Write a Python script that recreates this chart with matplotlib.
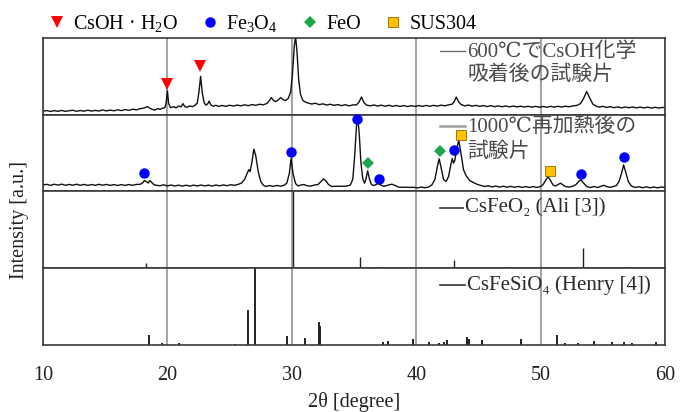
import matplotlib
matplotlib.use('Agg')
import matplotlib.pyplot as plt
from matplotlib.lines import Line2D

plt.rcParams['font.family'] = ['Liberation Serif', 'DejaVu Serif', 'Noto Sans CJK JP']
plt.rcParams['mathtext.fontset'] = 'custom'
plt.rcParams['mathtext.rm'] = 'Liberation Serif'
plt.rcParams['mathtext.it'] = 'Liberation Serif:italic'

# spectrum after CsOH chemisorption at 600C (heights read in pixels)
x_600 = [10.0, 10.3, 10.6, 10.9, 11.2, 11.5, 11.8, 12.1, 12.4, 12.7, 13.0, 13.3, 13.6, 13.9, 14.2,
         14.5, 14.8, 15.1, 15.4, 15.7, 16.0, 16.3, 16.6, 16.9, 17.2, 17.5, 17.8, 18.1, 18.4, 18.6,
         18.8, 19.0, 19.2, 19.4, 19.6, 19.8, 19.9, 20.0, 20.1, 20.25, 20.5, 20.7, 20.9, 21.1, 21.25,
         21.4, 21.6, 21.8, 22.0, 22.2, 22.4, 22.55, 22.67, 22.8, 22.95, 23.1, 23.25, 23.35, 23.5, 23.7,
         23.9, 24.1, 24.4, 24.7, 25.0, 25.3, 25.6, 25.9, 26.2, 26.5, 26.8, 27.1, 27.4, 27.7, 28.0,
         28.2, 28.35, 28.5, 28.7, 28.9, 29.1, 29.3, 29.5, 29.7, 29.9, 30.05, 30.2, 30.3, 30.42, 30.55,
         30.7, 30.9, 31.1, 31.3, 31.6, 31.9, 32.2, 32.5, 32.8, 33.1, 33.4, 33.7, 34.0, 34.3, 34.6,
         34.9, 35.2, 35.4, 35.6, 35.8, 36.0, 36.3, 36.6, 36.9, 37.2, 37.5, 37.8, 38.1, 38.4, 38.7,
         39.0, 39.3, 39.6, 39.9, 40.2, 40.5, 40.8, 41.1, 41.4, 41.7, 42.0, 42.3, 42.6, 42.9, 43.05,
         43.22, 43.4, 43.6, 43.9, 44.2, 44.5, 44.8, 45.1, 45.4, 45.7, 46.0, 46.3, 46.6, 46.9, 47.2,
         47.5, 47.8, 48.1, 48.4, 48.7, 49.0, 49.3, 49.6, 49.9, 50.2, 50.5, 50.8, 51.1, 51.4, 51.7,
         52.0, 52.3, 52.6, 52.9, 53.2, 53.45, 53.7, 53.95, 54.2, 54.45, 54.7, 55.0, 55.3, 55.6, 55.9,
         56.2, 56.5, 56.8, 57.1, 57.4, 57.7, 58.0, 58.3, 58.6, 58.9, 59.2, 59.5, 59.8, 60.0]
y_600 = [3.5, 4.2, 3.2, 4.1, 3.4, 4.3, 3.3, 4.0, 4.4, 3.4, 4.2, 3.5, 4.5, 3.6, 4.3,
         3.7, 4.7, 3.8, 4.6, 3.9, 4.9, 4.1, 5.1, 4.4, 5.5, 4.8, 6.0, 6.6, 8.0, 6.4,
         5.2, 4.6, 6.1, 5.3, 6.4, 7.0, 12.0, 23.5, 11.0, 7.0, 8.0, 6.8, 8.6, 7.8, 11.0,
         8.0, 7.4, 8.8, 8.0, 9.2, 11.5, 24.0, 38.0, 22.0, 12.0, 9.5, 11.0, 13.5, 9.6, 8.4,
         9.4, 8.2, 9.2, 8.3, 9.4, 8.6, 9.6, 8.8, 9.8, 9.0, 10.1, 9.3, 10.4, 9.8, 11.2,
         14.0, 17.0, 14.5, 13.0, 14.5, 17.0, 15.0, 14.0, 16.0, 22.0, 40.0, 68.0, 78.0, 62.0, 35.0,
         20.0, 14.0, 12.5, 11.6, 10.6, 11.4, 10.0, 10.8, 9.6, 10.4, 9.3, 10.1, 9.0, 9.9, 8.8,
         9.7, 9.8, 12.5, 17.5, 12.0, 9.6, 8.8, 9.7, 8.6, 9.5, 8.4, 9.4, 8.3, 9.2, 8.2,
         9.1, 8.1, 9.0, 8.2, 9.1, 8.3, 9.2, 8.4, 9.3, 8.5, 9.5, 8.8, 9.8, 10.5, 13.0,
         17.5, 13.0, 10.2, 8.8, 9.6, 8.5, 9.3, 8.3, 9.1, 8.1, 9.0, 8.0, 8.8, 7.9, 8.7,
         7.8, 8.6, 7.7, 8.5, 7.6, 8.4, 7.5, 8.3, 7.4, 8.2, 7.4, 8.3, 7.5, 8.4, 7.6,
         8.5, 7.8, 8.8, 9.2, 11.0, 16.0, 23.0, 16.5, 10.5, 8.6, 7.6, 8.3, 7.2, 8.0, 7.0,
         7.8, 6.8, 7.7, 6.9, 7.7, 6.8, 7.6, 6.7, 7.5, 6.6, 7.4, 6.6, 7.3, 6.9]

# spectrum after reheating at 1000C
x_1000 = [10.0, 10.3, 10.6, 10.9, 11.2, 11.5, 11.8, 12.1, 12.4, 12.7, 13.0, 13.3, 13.6, 13.9, 14.2,
          14.5, 14.8, 15.1, 15.4, 15.7, 16.0, 16.3, 16.6, 16.9, 17.2, 17.5, 17.8, 18.0, 18.15, 18.3,
          18.45, 18.6, 18.75, 18.9, 19.1, 19.4, 19.7, 20.0, 20.3, 20.6, 20.9, 21.2, 21.5, 21.8, 22.1,
          22.4, 22.7, 23.0, 23.3, 23.6, 23.9, 24.2, 24.5, 24.8, 25.1, 25.4, 25.7, 25.95, 26.2, 26.4,
          26.55, 26.65, 26.8, 26.95, 27.1, 27.3, 27.5, 27.7, 27.9, 28.2, 28.5, 28.8, 29.1, 29.4, 29.6,
          29.8, 29.94, 30.1, 30.3, 30.5, 30.8, 31.0, 31.2, 31.5, 31.8, 32.1, 32.35, 32.55, 32.75, 32.95,
          33.2, 33.5, 33.8, 34.1, 34.4, 34.7, 34.9, 35.05, 35.2, 35.3, 35.42, 35.55, 35.7, 35.85, 35.95,
          36.1, 36.25, 36.4, 36.55, 36.75, 36.95, 37.15, 37.4, 37.6, 37.85, 38.05, 38.3, 38.6, 38.9, 39.2,
          39.5, 39.8, 40.1, 40.4, 40.7, 41.0, 41.25, 41.5, 41.7, 41.84, 42.0, 42.2, 42.4, 42.6, 42.8,
          42.9, 43.0, 43.1, 43.25, 43.42, 43.6, 43.8, 44.0, 44.3, 44.6, 44.9, 45.2, 45.5, 45.8, 46.1,
          46.4, 46.7, 47.0, 47.3, 47.6, 47.9, 48.2, 48.5, 48.8, 49.1, 49.4, 49.7, 50.0, 50.2, 50.4,
          50.6, 50.8, 51.0, 51.2, 51.4, 51.6, 51.8, 52.0, 52.3, 52.6, 52.85, 53.05, 53.25, 53.45, 53.7,
          54.0, 54.3, 54.6, 54.9, 55.1, 55.3, 55.6, 55.9, 56.1, 56.3, 56.5, 56.67, 56.85, 57.05, 57.3,
          57.6, 57.9, 58.2, 58.5, 58.8, 59.1, 59.4, 59.7, 60.0]
y_1000 = [6.5, 7.2, 6.1, 7.3, 6.4, 7.4, 6.2, 7.1, 6.3, 7.3, 6.2, 7.1, 6.1, 7.0, 6.2,
          7.2, 6.3, 7.1, 6.1, 7.0, 6.0, 6.9, 6.1, 7.0, 6.2, 7.1, 7.2, 8.5, 11.0, 10.0,
          8.5, 11.0, 9.0, 7.0, 6.2, 5.8, 6.7, 5.6, 6.5, 5.5, 6.4, 5.4, 6.3, 5.4, 6.4,
          5.5, 6.5, 5.6, 6.4, 5.5, 6.5, 5.7, 6.6, 5.8, 6.8, 6.2, 7.2, 8.5, 12.0, 18.0,
          22.0, 20.0, 30.0, 42.5, 36.0, 20.0, 10.0, 6.5, 5.0, 6.0, 5.1, 6.1, 5.3, 6.4, 8.5,
          18.0, 33.0, 18.0, 8.0, 5.6, 6.7, 7.0, 5.8, 5.4, 6.4, 7.0, 10.0, 12.7, 10.5, 7.0,
          5.1, 5.2, 5.3, 5.2, 5.4, 6.5, 12.0, 35.0, 66.0, 74.0, 58.0, 30.0, 13.0, 8.3, 12.0,
          20.7, 12.0, 7.0, 6.0, 6.8, 8.3, 6.5, 5.2, 5.8, 6.8, 7.3, 6.0, 4.4, 4.2, 4.3,
          4.1, 4.2, 3.6, 4.5, 3.7, 4.6, 6.5, 12.0, 25.0, 33.0, 24.0, 12.0, 10.0, 15.0, 28.0,
          33.0, 28.5, 31.0, 42.0, 51.7, 38.0, 22.0, 16.0, 11.0, 9.0, 7.2, 6.0, 5.0, 5.8, 4.6,
          5.5, 4.4, 5.3, 4.3, 5.2, 4.2, 5.1, 4.1, 5.0, 4.0, 4.9, 4.1, 5.0, 7.0, 11.0,
          15.0, 11.0, 6.5, 5.5, 7.0, 8.3, 6.5, 5.0, 4.4, 5.4, 7.0, 10.0, 11.7, 8.5, 5.0,
          4.0, 5.0, 4.0, 5.5, 6.2, 5.0, 4.1, 5.2, 6.0, 10.0, 18.0, 26.7, 19.0, 10.0, 5.5,
          4.0, 4.8, 3.8, 4.7, 3.7, 4.6, 3.6, 4.5, 4.0]

# phase markers
csoh_x = [20.0, 22.6]
csoh_y = [30.5, 48.3]
fe3o4_x = [18.15, 29.94, 35.25, 36.97, 43.0, 53.25, 56.7]
fe3o4_y = [18.8, 39.3, 72.8, 12.3, 41.7, 17.3, 35.0]
feo_x = [36.12, 41.9]
feo_y = [28.3, 40.8]
sus_x = [43.62, 50.74]
sus_y = [56.7, 20.7]

# reference patterns (relative intensity)
csfeo2_x = [18.3, 30.1, 35.45, 37.05, 43.05, 47.1, 53.4, 56.9]
csfeo2_h = [0.065, 1.0, 0.145, 0.02, 0.108, 0.02, 0.27, 0.02]
csfesio4_x = [18.5, 19.6, 20.9, 25.4, 26.45, 27.05, 29.6, 31.05, 32.2, 32.3, 37.3, 37.7, 39.75,
              41.05, 41.8, 42.25, 42.45, 44.1, 44.25, 45.27, 48.4, 51.3, 51.95, 53.0, 54.3,
              55.7, 56.7, 57.35, 59.3]
csfesio4_h = [0.13, 0.02, 0.02, 0.01, 0.46, 1.0, 0.115, 0.085, 0.30, 0.25, 0.04, 0.05, 0.075,
              0.04, 0.03, 0.04, 0.06, 0.1, 0.08, 0.06, 0.075, 0.125, 0.03, 0.025, 0.05,
              0.035, 0.045, 0.03, 0.045]

xticks = [10, 20, 30, 40, 50, 60]

fig = plt.figure(figsize=(6.87, 4.12), dpi=100)
gs = fig.add_gridspec(4, 1, left=0.0626, right=0.968, bottom=0.1626, top=0.9078, hspace=0)
axes = [fig.add_subplot(gs[i]) for i in range(4)]

for ax in axes:
    ax.set_xlim(10, 60)
    ax.set_xticks(xticks)
    ax.set_yticks([])
    ax.tick_params(axis='x', length=0, pad=15, labelsize=14.5, labelcolor='#222222')
    ax.xaxis.grid(True, color='#a6a6a6', linewidth=1.5)
    ax.set_axisbelow(True)
    for s in ax.spines.values():
        s.set_color('#3a3a3a')
        s.set_linewidth(1.2)
    if ax is not axes[-1]:
        ax.tick_params(axis='x', labelbottom=False)

ax1, ax2, ax3, ax4 = axes

ax1.plot(x_600, y_600, color='#111111', linewidth=1.0)
ax1.set_ylim(0, 76)
ax1.plot(csoh_x, csoh_y, linestyle='none', marker='v', color='#ff0000', markersize=8.5,
         markeredgewidth=0, clip_on=False, zorder=5)

ax2.plot(x_1000, y_1000, color='#111111', linewidth=1.0)
ax2.set_ylim(0, 77)
ax2.plot(fe3o4_x, fe3o4_y, linestyle='none', marker='o', color='#0000ff', markersize=7.5,
         markeredgewidth=0, clip_on=False, zorder=5)
ax2.plot(feo_x, feo_y, linestyle='none', marker='D', color='#1fa64a', markersize=6.5,
         markeredgewidth=0, clip_on=False, zorder=5)
ax2.plot(sus_x, sus_y, linestyle='none', marker='s', color='#ffc000', markersize=7.5,
         markeredgecolor='#8a6a00', markeredgewidth=0.6, clip_on=False, zorder=5)

ax3.vlines(csfeo2_x, 0, csfeo2_h, color='#222222', linewidth=1.0)
ax3.set_ylim(0, 1)

ax4.vlines(csfesio4_x, 0, csfesio4_h, color='#222222', linewidth=1.4)
ax4.set_ylim(0, 1)

# series keys inside each panel
lab_fs = 15
ax1.plot([0.638, 0.678], [0.83, 0.83], transform=ax1.transAxes, color='#666666', linewidth=0.9)
ax1.text(0.682, 0.82, '600℃でCsOH化学', transform=ax1.transAxes, va='center', ha='left',
         fontsize=lab_fs, color='#4a4a4a')
ax1.text(0.682, 0.513, '吸着後の試験片', transform=ax1.transAxes, va='center', ha='left',
         fontsize=lab_fs, color='#4a4a4a')

ax2.plot([0.638, 0.678], [0.857, 0.857], transform=ax2.transAxes, color='#a0a0a0', linewidth=1.8)
ax2.text(0.682, 0.835, '1000℃再加熱後の', transform=ax2.transAxes, va='center', ha='left',
         fontsize=lab_fs, color='#4a4a4a')
ax2.text(0.682, 0.51, '試験片', transform=ax2.transAxes, va='center', ha='left',
         fontsize=lab_fs, color='#4a4a4a')

ax3.plot([0.638, 0.675], [0.79, 0.79], transform=ax3.transAxes, color='#333333', linewidth=1.2)
ax3.text(0.678, 0.79, 'CsFeO₂ (Ali [3])', transform=ax3.transAxes, va='center', ha='left',
         fontsize=lab_fs, color='#2a2a2a')

ax4.plot([0.638, 0.678], [0.78, 0.78], transform=ax4.transAxes, color='#333333', linewidth=1.2)
ax4.text(0.682, 0.78, 'CsFeSiO₄ (Henry [4])', transform=ax4.transAxes, va='center', ha='left',
         fontsize=lab_fs, color='#2a2a2a')

ax4.set_xlabel('2θ [degree]', fontsize=14.5, labelpad=5, color='#222222')
fig.text(0.029, 0.466, 'Intensity [a.u.]', rotation=90, va='center', ha='center',
         fontsize=14.5, color='#222222')

handles = [
    Line2D([], [], linestyle='none', marker='v', color='#ff0000', markersize=8.5, markeredgewidth=0),
    Line2D([], [], linestyle='none', marker='o', color='#0000ff', markersize=7.5, markeredgewidth=0),
    Line2D([], [], linestyle='none', marker='D', color='#1fa64a', markersize=6.5, markeredgewidth=0),
    Line2D([], [], linestyle='none', marker='s', color='#ffc000', markersize=7.5,
           markeredgecolor='#8a6a00', markeredgewidth=0.6),
]
labels = ['CsOH · H$_2$O', 'Fe$_3$O$_4$', 'FeO', 'SUS304']
fig.legend(handles, labels, loc='center left', bbox_to_anchor=(0.071, 0.943), ncol=4,
           frameon=False, fontsize=14.5, handlelength=0.8, handletextpad=0.4,
           columnspacing=1.2, borderpad=0, borderaxespad=0)

fig.savefig('out.png', dpi=100)
